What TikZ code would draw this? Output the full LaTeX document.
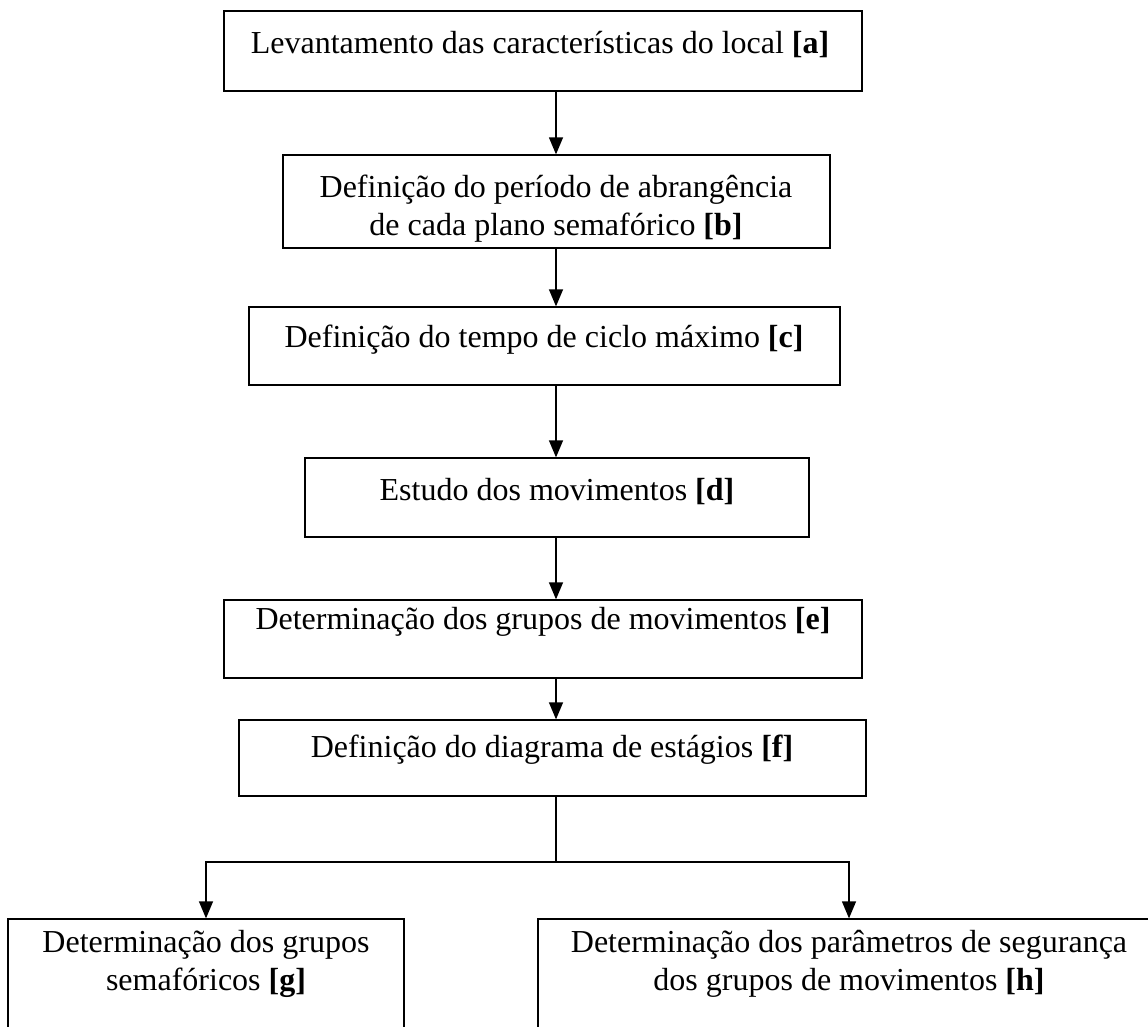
\documentclass[tikz,border=0pt]{standalone}
\usepackage{fontspec}
\setmainfont{Liberation Serif}
\usetikzlibrary{arrows.meta}
\begin{document}
\begin{tikzpicture}[x=1pt,y=-1pt,
  box/.style={draw,line width=1.3pt,inner sep=0pt},
  txt/.style={align=center,inner sep=0pt,font=\fontsize{32}{38}\selectfont},
  arr/.style={line width=1.3pt,-{Triangle[length=17pt,width=14pt]}}]
\useasboundingbox (0,0) rectangle (1148,1026);
\clip (0,0) rectangle (1148,1026);
\coordinate (spine) at (556,0);
\coordinate (fork) at (556,862);
\node[box,minimum width=638,minimum height=80] (a) at (543,51) {};
\node[box,minimum width=547,minimum height=93] (b) at (556.5,201.5) {};
\node[box,minimum width=591,minimum height=78] (c) at (544.5,346) {};
\node[box,minimum width=504,minimum height=79] (d) at (557,497.5) {};
\node[box,minimum width=638,minimum height=78] (e) at (543,639) {};
\node[box,minimum width=627,minimum height=76] (f) at (552.5,758) {};
\node[box,minimum width=396,minimum height=151] (g) at (206,994.5) {};
\node[box,minimum width=622,minimum height=151] (h) at (849,994.5) {};
\node[txt] (a-t) at (540,45) {Levantamento das características do local \textbf{[a]}};
\node[txt] (b-t) at (556,209) {Definição do período de abrangência\\de cada plano semafórico \textbf{[b]}};
\node[txt] (c-t) at (544,340) {Definição do tempo de ciclo máximo \textbf{[c]}};
\node[txt] (d-t) at (557,492) {Estudo dos movimentos \textbf{[d]}};
\node[txt] (e-t) at (543,622) {Determinação dos grupos de movimentos \textbf{[e]}};
\node[txt] (f-t) at (552,750) {Definição do diagrama de estágios \textbf{[f]}};
\node[txt] (g-t) at (206,964) {Determinação dos grupos\\semafóricos \textbf{[g]}};
\node[txt] (h-t) at (849,964) {Determinação dos parâmetros de segurança\\dos grupos de movimentos \textbf{[h]}};
\draw[arr] (a.south -| spine) -- (b.north -| spine);
\draw[arr] (b.south -| spine) -- (c.north -| spine);
\draw[arr] (c.south -| spine) -- (d.north -| spine);
\draw[arr] (d.south -| spine) -- (e.north -| spine);
\draw[arr] (e.south -| spine) -- (f.north -| spine);
\draw[line width=1.3pt] (f.south -| fork) -- (fork);
\draw[arr] (fork) -| (g.north);
\draw[arr] (fork) -| (h.north);
\end{tikzpicture}
\end{document}
